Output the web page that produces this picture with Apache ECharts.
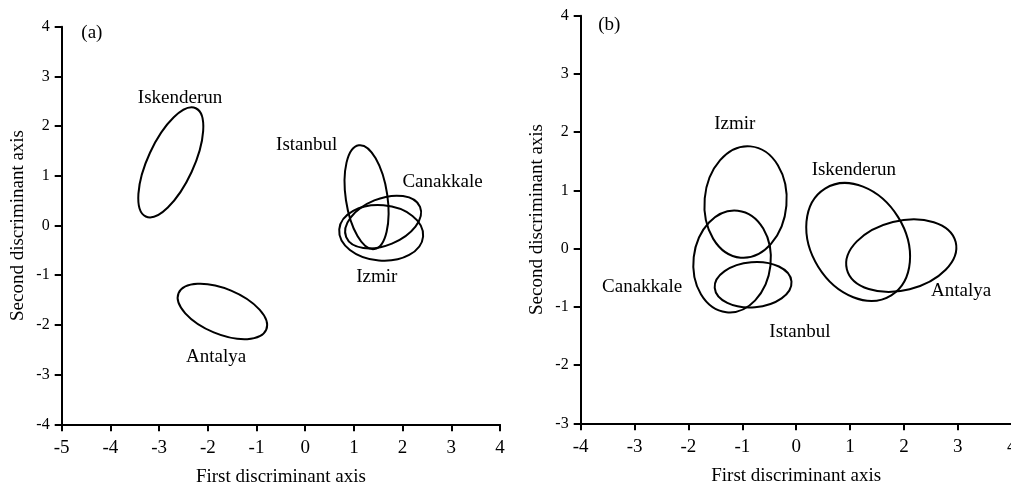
<!DOCTYPE html>
<html>
<head>
<meta charset="utf-8">
<script src="https://cdn.jsdelivr.net/npm/echarts@6/dist/echarts.min.js"></script>
<style>
html,body{margin:0;padding:0;background:#fff;}
#chart{width:1011px;height:485px;}
</style>
</head>
<body>
<div id="chart"></div>
<script>
// ---------- Panel (a) ----------
const sitesA      = ['Iskenderun', 'Antalya', 'Istanbul', 'Canakkale', 'Izmir'];
const centerXA    = [-2.76, -1.70, 1.26, 1.60, 1.56];
const centerYA    = [1.27, -1.73, 0.57, 0.07, -0.15];
const semiMajorA  = [1.224, 0.975, 1.078, 0.819, 0.864];
const semiMinorA  = [0.461, 0.455, 0.419, 0.469, 0.557];
const tiltA       = [65.2, -22.6, 98.5, 22.2, -4.8];
const labelXA     = [-2.57, -1.83, 0.03, 2.82, 1.47];
const labelYA     = [2.57, -2.65, 1.61, 0.88, -1.03];
const xTicksA     = [-5, -4, -3, -2, -1, 0, 1, 2, 3, 4];
const yTicksA     = [-4, -3, -2, -1, 0, 1, 2, 3, 4];

// ---------- Panel (b) ----------
const sitesB      = ['Izmir', 'Canakkale', 'Istanbul', 'Iskenderun', 'Antalya'];
const centerXB    = [-0.94, -1.19, -0.80, 1.15, 1.95];
const centerYB    = [0.80, -0.22, -0.62, 0.115, -0.12];
const semiMajorB  = [1.037, 0.948, 0.715, 1.166, 1.041];
const semiMinorB  = [0.704, 0.663, 0.388, 0.808, 0.596];
const tiltB       = [85, 83.6, 4.8, -58.2, 14];
const labelXB     = [-1.14, -2.86, 0.07, 1.07, 3.06];
const labelYB     = [2.14, -0.66, -1.43, 1.35, -0.73];
const xTicksB     = [-4, -3, -2, -1, 0, 1, 2, 3, 4];
const yTicksB     = [-3, -2, -1, 0, 1, 2, 3, 4];

const panelTags   = ['(a)', '(b)'];
const tagX        = [-4.38, -3.47];
const tagY        = [3.87, 3.84];

const FONT = '"Liberation Serif", "Times New Roman", serif';

function ellipseData(cx, cy, ra, rb, ang) {
  return cx.map((v, i) => [v, cy[i], ra[i], rb[i], ang[i]]);
}
function labelData(names, lx, ly, tag, tx, ty) {
  const d = names.map((n, i) => ({ value: [lx[i], ly[i]], name: n }));
  d.push({ value: [tx, ty], name: tag });
  return d;
}

function renderEllipse(params, api) {
  const c = api.coord([api.value(0), api.value(1)]);
  const s = api.size([api.value(2), api.value(3)]);
  return {
    type: 'ellipse',
    x: c[0], y: c[1],
    rotation: api.value(4) * Math.PI / 180,
    shape: { cx: 0, cy: 0, rx: s[0], ry: s[1] },
    style: { fill: 'none', stroke: '#000', lineWidth: 2 }
  };
}

function xAxisCfg(idx, ticks) {
  return {
    gridIndex: idx, type: 'value',
    min: ticks[0], max: ticks[ticks.length - 1], interval: 1,
    name: 'First discriminant axis', nameLocation: 'middle', nameGap: 43,
    nameTextStyle: { fontFamily: FONT, fontSize: 19, color: '#000' },
    axisLine: { show: true, onZero: false, lineStyle: { color: '#000', width: 2 } },
    axisTick: { show: true, inside: false, length: 7, lineStyle: { color: '#000', width: 2 } },
    axisLabel: { show: true, margin: 14, fontFamily: FONT, fontSize: 19, color: '#000',
                 showMinLabel: true, showMaxLabel: true },
    splitLine: { show: false }
  };
}
function yAxisCfg(idx, ticks) {
  return {
    gridIndex: idx, type: 'value',
    min: ticks[0], max: ticks[ticks.length - 1], interval: 1,
    name: 'Second discriminant axis', nameLocation: 'middle', nameGap: 34,
    nameTextStyle: { fontFamily: FONT, fontSize: 19, color: '#000' },
    axisLine: { show: true, onZero: false, lineStyle: { color: '#000', width: 2 } },
    axisTick: { show: true, inside: false, length: 7, lineStyle: { color: '#000', width: 2 } },
    axisLabel: { show: true, margin: 12, fontFamily: FONT, fontSize: 16, color: '#000',
                 showMinLabel: true, showMaxLabel: true },
    splitLine: { show: false }
  };
}

function labelSeries(idx, data) {
  return {
    type: 'scatter', xAxisIndex: idx, yAxisIndex: idx,
    symbolSize: 0, silent: true,
    itemStyle: { opacity: 1 },
    data: data,
    label: {
      show: true, position: 'inside', formatter: p => p.name,
      fontFamily: FONT, fontSize: 19, color: '#000', opacity: 1
    }
  };
}

const option = {
  backgroundColor: '#fff',
  animation: false,
  grid: [
    { left: 61.7, top: 26.7, width: 438.3, height: 397.6, outerBoundsMode: 'none', containLabel: false },
    { left: 580.7, top: 15.7, width: 431, height: 407.6, outerBoundsMode: 'none', containLabel: false }
  ],
  xAxis: [xAxisCfg(0, xTicksA), xAxisCfg(1, xTicksB)],
  yAxis: [yAxisCfg(0, yTicksA), yAxisCfg(1, yTicksB)],
  series: [
    { type: 'custom', xAxisIndex: 0, yAxisIndex: 0, renderItem: renderEllipse,
      data: ellipseData(centerXA, centerYA, semiMajorA, semiMinorA, tiltA), silent: true },
    { type: 'custom', xAxisIndex: 1, yAxisIndex: 1, renderItem: renderEllipse,
      data: ellipseData(centerXB, centerYB, semiMajorB, semiMinorB, tiltB), silent: true },
    labelSeries(0, labelData(sitesA, labelXA, labelYA, panelTags[0], tagX[0], tagY[0])),
    labelSeries(1, labelData(sitesB, labelXB, labelYB, panelTags[1], tagX[1], tagY[1]))
  ]
};

const chart = echarts.init(document.getElementById('chart'), null, { renderer: 'canvas' });
chart.setOption(option);
</script>
</body>
</html>
